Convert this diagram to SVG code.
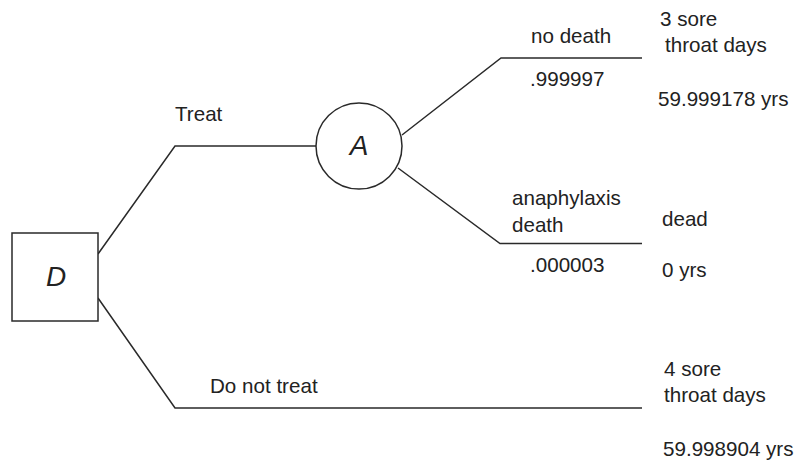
<svg xmlns="http://www.w3.org/2000/svg" width="801" height="460" viewBox="0 0 801 460">
<style>
.ln{fill:none;stroke:#2a2a2a;stroke-width:1.5}
.nd{fill:#fff;stroke:#2a2a2a;stroke-width:1.5}
text{font-family:"Liberation Sans",Arial,sans-serif;font-size:20.6px;fill:#222}
.big{font-size:28px;font-style:italic;text-anchor:middle}
</style>
<rect width="801" height="460" fill="#fff"/>
<g id="connectors">
<polyline class="ln" points="98,254 175,146 316,146"/>
<polyline class="ln" points="98,298 175,408 642,408"/>
<polyline class="ln" points="402,135 501,58 642,58"/>
<polyline class="ln" points="398,168 500,243.5 642,243.5"/>
</g>
<g id="node-D">
<rect class="nd" x="12" y="233" width="86" height="88"/>
<text class="big" x="56" y="286">D</text>
</g>
<g id="node-A">
<circle class="nd" cx="359" cy="146" r="43"/>
<text class="big" x="359" y="155">A</text>
</g>
<g id="labels">
<text x="175" y="121">Treat</text>
<text x="210" y="393">Do not treat</text>
<text x="531" y="43">no death</text>
<text x="530" y="86">.999997</text>
<text x="512" y="205">anaphylaxis</text>
<text x="512" y="232">death</text>
<text x="530" y="272">.000003</text>
<text x="660" y="26">3 sore</text>
<text x="665" y="52">throat days</text>
<text x="658" y="106">59.999178 yrs</text>
<text x="662" y="226">dead</text>
<text x="662" y="277">0 yrs</text>
<text x="664" y="376">4 sore</text>
<text x="664" y="402">throat days</text>
<text x="663" y="456">59.998904 yrs</text>
</g>
</svg>
